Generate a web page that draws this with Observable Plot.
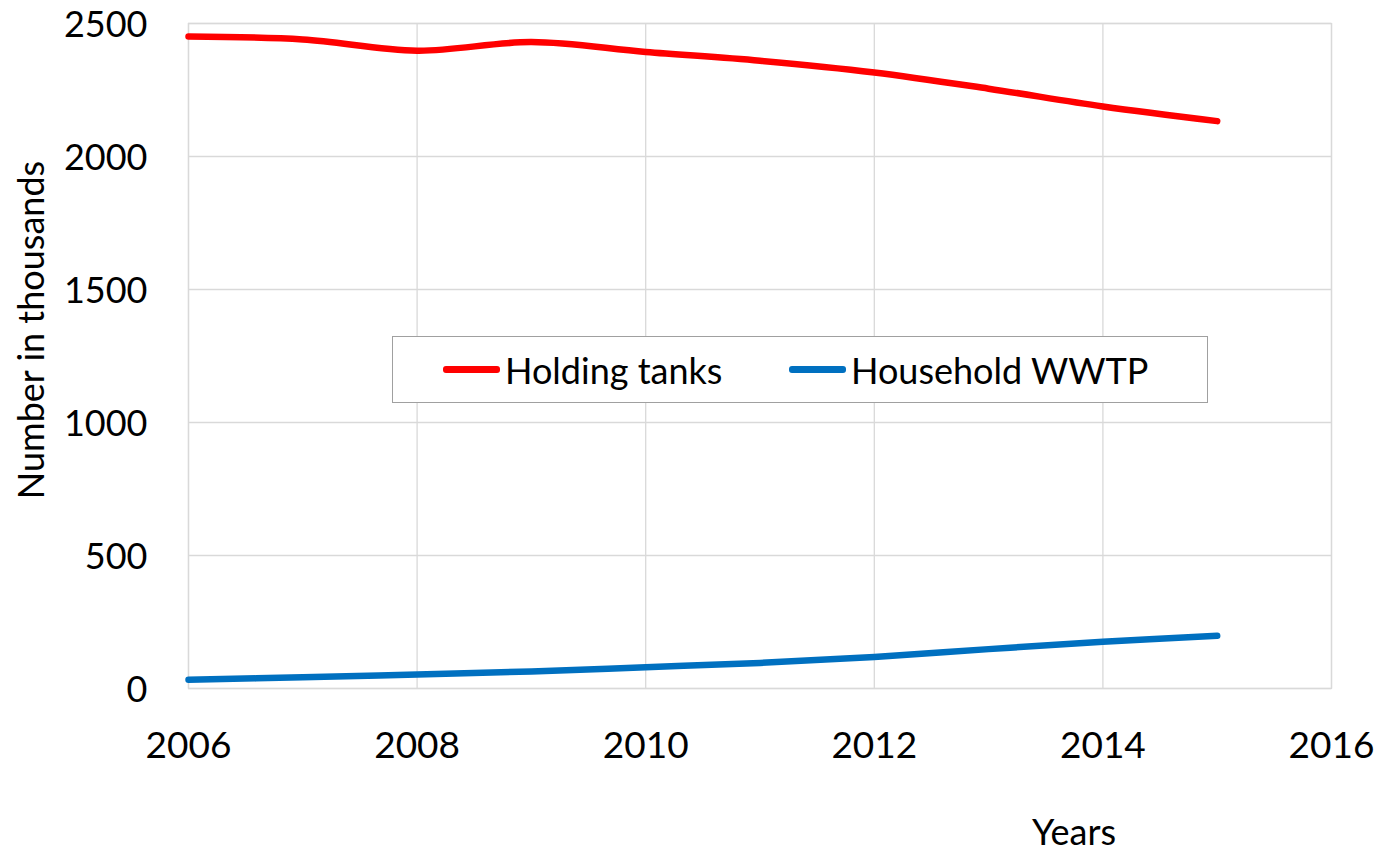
<!DOCTYPE html>
<html>
<head>
<meta charset="utf-8">
<script src="https://cdn.jsdelivr.net/npm/d3@7"></script>
<script src="https://cdn.jsdelivr.net/npm/@observablehq/plot@0.6"></script>
<style>
  html, body { margin: 0; padding: 0; background: #fff; }
  #wrap { position: relative; width: 1385px; height: 853px; font-family: Lato, "Open Sans", sans-serif; color: #000; overflow: hidden; }
  #legend { position: absolute; left: 392px; top: 336px; width: 816px; height: 67px; border: 1.5px solid #a0a0a0; background: #fff; box-sizing: border-box; }
  .item { position: absolute; top: 0; height: 65px; display: flex; align-items: center; font-size: 36px; }
  .swatch { width: 57px; height: 6.5px; border-radius: 3px; margin-right: 5px; }
  #ylab { position: absolute; left: 30px; top: 330px; transform: translate(-50%, -50%) rotate(-90deg); font-size: 36px; line-height: 40px; white-space: nowrap; }
  #xlab { position: absolute; left: 1074px; top: 831px; transform: translate(-50%, -50%); font-size: 36px; line-height: 36px; white-space: nowrap; }
</style>
</head>
<body>
<div id="wrap"></div>
<script>
const years = [2006, 2007, 2008, 2009, 2010, 2011, 2012, 2013, 2014, 2015];
const holdingTanks = [2451, 2440, 2398, 2430, 2393, 2360, 2316, 2255, 2188, 2133];
const householdWWTP = [33, 42, 53, 64, 80, 96, 118, 148, 176, 198];
const seriesNames = ["Holding tanks", "Household WWTP"];
const seriesColors = ["#ff0000", "#0070c0"];
const xTicks = [2006, 2008, 2010, 2012, 2014, 2016];
const yTicks = [0, 500, 1000, 1500, 2000, 2500];

const data = [];
years.forEach((yr, i) => {
  data.push({year: yr, value: holdingTanks[i], series: seriesNames[0]});
  data.push({year: yr, value: householdWWTP[i], series: seriesNames[1]});
});

const chart = Plot.plot({
  width: 1385,
  height: 853,
  marginLeft: 188,
  marginRight: 54,
  marginTop: 23,
  marginBottom: 165,
  style: {fontFamily: "Lato, 'Open Sans', sans-serif", fontSize: "36px", color: "#000", background: "#fff"},
  x: {domain: [2006, 2016]},
  y: {domain: [0, 2500]},
  color: {domain: seriesNames, range: seriesColors},
  marks: [
    Plot.gridX(xTicks, {stroke: "#d9d9d9", strokeOpacity: 1, strokeWidth: 1.3}),
    Plot.gridY(yTicks, {stroke: "#d9d9d9", strokeOpacity: 1, strokeWidth: 1.3}),
    Plot.frame({stroke: "#d9d9d9", strokeWidth: 1.3}),
    Plot.axisX({ticks: xTicks, tickSize: 0, tickPadding: 43, tickFormat: d => String(d), label: null, fontSize: 37}),
    Plot.axisY({ticks: yTicks, tickSize: 0, tickPadding: 41, tickFormat: d => String(d), label: null, fontSize: 36, dy: 2}),
    Plot.line(data, {x: "year", y: "value", z: "series", stroke: "series", strokeWidth: 6.5, strokeLinecap: "round", strokeLinejoin: "round", curve: "catmull-rom"})
  ]
});

const wrap = document.getElementById("wrap");
wrap.appendChild(chart);

const legend = document.createElement("div");
legend.id = "legend";
const legendLefts = [50, 396];
seriesNames.forEach((name, i) => {
  const item = document.createElement("div");
  item.className = "item";
  item.style.left = legendLefts[i] + "px";
  const sw = document.createElement("div");
  sw.className = "swatch";
  sw.style.background = seriesColors[i];
  const tx = document.createElement("span");
  tx.textContent = name;
  item.appendChild(sw);
  item.appendChild(tx);
  legend.appendChild(item);
});
wrap.appendChild(legend);

const ylab = document.createElement("div");
ylab.id = "ylab";
ylab.textContent = "Number in thousands";
wrap.appendChild(ylab);

const xlab = document.createElement("div");
xlab.id = "xlab";
xlab.textContent = "Years";
wrap.appendChild(xlab);
</script>
</body>
</html>
